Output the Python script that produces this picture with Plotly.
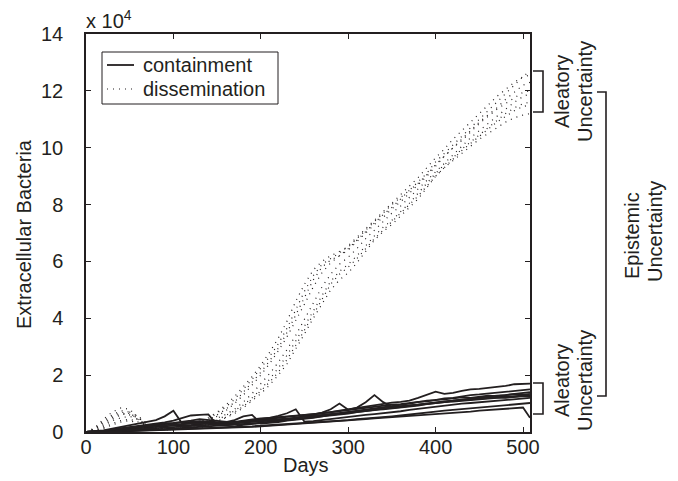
import plotly.graph_objects as go

# ---------------- data (values in units of 10^4 bacteria) ----------------
days = [0, 10, 20, 30, 40, 50, 60, 70, 80, 90, 100, 110, 120, 130, 140, 150, 160, 170, 180, 190,
        200, 210, 220, 230, 240, 250, 260, 270, 280, 290, 300, 310, 320, 330, 340, 350, 360, 370,
        380, 390, 400, 410, 420, 430, 440, 450, 460, 470, 480, 490, 500, 508]

containment_1 = [0, 0.02, 0.06, 0.12, 0.18, 0.24, 0.3, 0.34, 0.42, 0.55, 0.75, 0.3, 0.32, 0.36, 0.33, 0.3, 0.28, 0.32, 0.36, 0.38, 0.43, 0.46, 0.5, 0.53, 0.57, 0.6, 0.63, 0.66, 0.7, 0.73, 0.77, 0.81, 0.84, 0.89, 0.92, 0.96, 0.98, 1.03, 1.06, 1.08, 1.13, 1.15, 1.19, 1.22, 1.2, 1.25, 1.28, 1.26, 1.3, 1.33, 1.31, 1.34]
containment_2 = [0, 0.01, 0.04, 0.09, 0.13, 0.18, 0.22, 0.27, 0.3, 0.34, 0.4, 0.5, 0.58, 0.6, 0.62, 0.24, 0.22, 0.2, 0.25, 0.29, 0.31, 0.35, 0.38, 0.41, 0.46, 0.49, 0.52, 0.55, 0.6, 0.63, 0.66, 0.69, 0.74, 0.77, 0.82, 0.86, 0.89, 0.93, 0.97, 1.0, 1.03, 1.07, 1.1, 1.13, 1.15, 1.18, 1.2, 1.23, 1.24, 1.27, 1.29, 1.3]
containment_3 = [0, 0.0, 0.02, 0.05, 0.08, 0.1, 0.13, 0.15, 0.18, 0.2, 0.23, 0.25, 0.24, 0.28, 0.3, 0.32, 0.3, 0.34, 0.38, 0.42, 0.46, 0.5, 0.57, 0.66, 0.8, 0.36, 0.38, 0.42, 0.46, 0.5, 0.53, 0.56, 0.6, 0.63, 0.66, 0.7, 0.73, 0.78, 0.82, 0.86, 0.9, 0.92, 0.96, 1.0, 1.02, 1.05, 1.08, 1.1, 1.12, 1.15, 1.18, 1.2]
containment_4 = [0, 0.0, 0.01, 0.02, 0.03, 0.05, 0.06, 0.08, 0.08, 0.1, 0.12, 0.14, 0.15, 0.17, 0.19, 0.2, 0.22, 0.25, 0.28, 0.3, 0.33, 0.36, 0.4, 0.45, 0.5, 0.55, 0.6, 0.68, 0.8, 1.0, 0.78, 0.86, 1.05, 1.3, 1.05, 0.88, 0.9, 0.93, 0.96, 1.0, 1.05, 1.08, 1.1, 1.14, 1.18, 1.2, 1.24, 1.28, 1.3, 1.34, 1.37, 1.4]
containment_5 = [0, 0.01, 0.03, 0.06, 0.1, 0.13, 0.16, 0.2, 0.25, 0.28, 0.3, 0.32, 0.35, 0.38, 0.36, 0.35, 0.33, 0.36, 0.4, 0.45, 0.48, 0.5, 0.52, 0.55, 0.58, 0.6, 0.63, 0.66, 0.7, 0.75, 0.8, 0.85, 0.9, 0.95, 1.0, 1.03, 1.06, 1.1, 1.2, 1.3, 1.42, 1.34, 1.38, 1.45, 1.5, 1.52, 1.55, 1.58, 1.62, 1.68, 1.7, 1.7]
containment_6 = [0, 0, 0, 0.01, 0.02, 0.03, 0.04, 0.05, 0.06, 0.07, 0.08, 0.09, 0.1, 0.1, 0.12, 0.13, 0.14, 0.15, 0.17, 0.18, 0.2, 0.22, 0.24, 0.26, 0.28, 0.3, 0.31, 0.33, 0.35, 0.38, 0.4, 0.42, 0.45, 0.48, 0.5, 0.52, 0.55, 0.56, 0.58, 0.6, 0.63, 0.65, 0.68, 0.7, 0.72, 0.75, 0.77, 0.8, 0.82, 0.84, 0.86, 0.5]
containment_7 = [0, 0.01, 0.03, 0.06, 0.1, 0.14, 0.18, 0.2, 0.22, 0.25, 0.26, 0.28, 0.3, 0.29, 0.3, 0.32, 0.35, 0.42, 0.55, 0.6, 0.3, 0.32, 0.35, 0.4, 0.43, 0.47, 0.5, 0.55, 0.58, 0.62, 0.65, 0.7, 0.75, 0.78, 0.8, 0.83, 0.87, 0.9, 0.93, 0.98, 1.02, 1.05, 1.07, 1.1, 1.12, 1.15, 1.18, 1.2, 1.22, 1.25, 1.27, 1.28]
containment_8 = [0, 0.0, 0.02, 0.04, 0.06, 0.08, 0.1, 0.12, 0.15, 0.17, 0.18, 0.2, 0.22, 0.23, 0.25, 0.27, 0.28, 0.3, 0.33, 0.35, 0.38, 0.4, 0.43, 0.45, 0.48, 0.5, 0.55, 0.6, 0.63, 0.66, 0.7, 0.75, 0.8, 0.83, 0.86, 0.9, 0.95, 1.0, 1.05, 1.1, 1.12, 1.18, 1.2, 1.25, 1.3, 1.32, 1.35, 1.38, 1.42, 1.45, 1.48, 1.5]
containment_9 = [0, 0, 0.01, 0.02, 0.03, 0.04, 0.05, 0.06, 0.07, 0.08, 0.09, 0.1, 0.11, 0.12, 0.13, 0.14, 0.15, 0.16, 0.18, 0.2, 0.22, 0.24, 0.25, 0.27, 0.29, 0.3, 0.32, 0.35, 0.37, 0.4, 0.42, 0.45, 0.47, 0.5, 0.53, 0.55, 0.58, 0.62, 0.65, 0.68, 0.72, 0.75, 0.78, 0.8, 0.83, 0.86, 0.88, 0.92, 0.95, 0.97, 1.0, 1.02]
containment_10 = [0, 0.01, 0.04, 0.08, 0.12, 0.16, 0.2, 0.24, 0.28, 0.3, 0.32, 0.35, 0.4, 0.45, 0.42, 0.38, 0.35, 0.33, 0.35, 0.38, 0.4, 0.42, 0.45, 0.47, 0.5, 0.54, 0.57, 0.6, 0.62, 0.66, 0.7, 0.72, 0.76, 0.8, 0.82, 0.85, 0.88, 0.92, 0.95, 1.0, 1.02, 1.05, 1.1, 1.12, 1.14, 1.18, 1.2, 1.22, 1.2, 1.24, 1.26, 1.25]

dissemination_1 = [0, 0.15, 0.45, 0.7, 0.85, 0.8, 0.5, 0.25, 0.15, 0.12, 0.15, 0.2, 0.28, 0.35, 0.5, 0.7, 0.95, 1.25, 1.6, 1.95, 2.35, 2.8, 3.3, 3.9, 4.6, 5.2, 5.7, 6.0, 6.2, 6.35, 6.5, 6.8, 7.1, 7.4, 7.7, 8.0, 8.25, 8.5, 8.8, 9.1, 9.5, 9.8, 10.1, 10.4, 10.7, 11.0, 11.3, 11.6, 11.9, 12.2, 12.5, 12.7]
dissemination_2 = [0, 0.05, 0.15, 0.3, 0.4, 0.45, 0.35, 0.2, 0.1, 0.08, 0.08, 0.1, 0.12, 0.15, 0.22, 0.35, 0.5, 0.65, 0.85, 1.1, 1.35, 1.65, 2.0, 2.4, 2.9, 3.45, 4.0, 4.5, 5.0, 5.35, 5.6, 5.95, 6.35, 6.75, 7.05, 7.3, 7.6, 7.9, 8.2, 8.6, 9.0, 9.3, 9.55, 9.8, 10.05, 10.3, 10.5, 10.7, 10.9, 11.05, 11.15, 11.2]
dissemination_3 = [0, 0.1, 0.35, 0.55, 0.7, 0.65, 0.45, 0.2, 0.12, 0.1, 0.12, 0.16, 0.22, 0.3, 0.42, 0.6, 0.8, 1.05, 1.4, 1.75, 2.1, 2.5, 2.95, 3.5, 4.1, 4.75, 5.35, 5.8, 6.05, 6.2, 6.4, 6.7, 7.0, 7.3, 7.55, 7.85, 8.1, 8.4, 8.7, 9.0, 9.35, 9.7, 10.0, 10.3, 10.6, 10.9, 11.15, 11.4, 11.7, 11.95, 12.2, 12.3]
dissemination_4 = [0, 0.08, 0.25, 0.45, 0.6, 0.7, 0.55, 0.3, 0.15, 0.1, 0.1, 0.12, 0.18, 0.25, 0.35, 0.48, 0.62, 0.8, 1.05, 1.35, 1.7, 2.05, 2.45, 2.9, 3.4, 3.95, 4.55, 5.1, 5.55, 5.9, 6.15, 6.45, 6.8, 7.1, 7.4, 7.7, 7.95, 8.25, 8.55, 8.85, 9.15, 9.45, 9.75, 10.05, 10.35, 10.6, 10.85, 11.1, 11.35, 11.6, 11.8, 11.9]
dissemination_5 = [0, 0.12, 0.4, 0.6, 0.75, 0.7, 0.4, 0.22, 0.12, 0.1, 0.12, 0.15, 0.2, 0.28, 0.4, 0.55, 0.75, 1.0, 1.3, 1.65, 2.0, 2.4, 2.85, 3.35, 3.9, 4.5, 5.1, 5.6, 5.95, 6.2, 6.45, 6.75, 7.05, 7.35, 7.65, 7.9, 8.2, 8.5, 8.75, 9.05, 9.4, 9.7, 10.0, 10.25, 10.55, 10.85, 11.1, 11.35, 11.55, 11.75, 11.95, 12.0]
dissemination_6 = [0, 0.05, 0.2, 0.4, 0.5, 0.55, 0.45, 0.25, 0.12, 0.08, 0.09, 0.12, 0.15, 0.2, 0.3, 0.42, 0.58, 0.75, 0.95, 1.2, 1.5, 1.85, 2.25, 2.7, 3.2, 3.7, 4.25, 4.8, 5.3, 5.65, 5.9, 6.2, 6.55, 6.9, 7.2, 7.45, 7.75, 8.05, 8.4, 8.75, 9.1, 9.4, 9.65, 9.95, 10.2, 10.45, 10.7, 10.95, 11.2, 11.4, 11.55, 11.6]
dissemination_7 = [0, 0.1, 0.3, 0.5, 0.65, 0.6, 0.5, 0.3, 0.18, 0.12, 0.12, 0.18, 0.25, 0.32, 0.45, 0.65, 0.88, 1.15, 1.5, 1.85, 2.25, 2.65, 3.1, 3.65, 4.3, 4.95, 5.5, 5.9, 6.1, 6.3, 6.55, 6.85, 7.15, 7.45, 7.75, 8.05, 8.35, 8.65, 8.95, 9.3, 9.65, 9.95, 10.3, 10.6, 10.9, 11.2, 11.5, 11.8, 12.05, 12.3, 12.5, 12.55]
dissemination_8 = [0, 0.03, 0.12, 0.25, 0.35, 0.4, 0.3, 0.18, 0.1, 0.07, 0.08, 0.1, 0.14, 0.18, 0.26, 0.38, 0.52, 0.7, 0.9, 1.15, 1.45, 1.75, 2.1, 2.55, 3.05, 3.6, 4.15, 4.7, 5.2, 5.55, 5.8, 6.1, 6.45, 6.8, 7.1, 7.4, 7.7, 8.0, 8.3, 8.65, 9.0, 9.3, 9.6, 9.9, 10.15, 10.4, 10.65, 10.9, 11.1, 11.3, 11.45, 11.5]

containment = [containment_1, containment_2, containment_3, containment_4, containment_5,
               containment_6, containment_7, containment_8, containment_9, containment_10]
dissemination = [dissemination_1, dissemination_2, dissemination_3, dissemination_4,
                 dissemination_5, dissemination_6, dissemination_7, dissemination_8]

legend_labels = ["containment", "dissemination"]
x_ticks = [0, 100, 200, 300, 400, 500]
y_ticks = [0, 2, 4, 6, 8, 10, 12, 14]

# ---------------- figure ----------------
INK = "#231f20"
FONT = "Liberation Sans, Arial, sans-serif"
FS = 20
SOLID = dict(color=INK, width=1.8)
DOTTED = dict(color=INK, width=1.2, dash="1px,5px")
W, H = 678, 481
L, R, T, B = 86, 148, 34, 49
PW, PH = W - L - R, H - T - B


def px(x):
    return (x - L) / PW


def py(y):
    return (H - B - y) / PH


fig = go.Figure()

for ys in dissemination:
    fig.add_trace(go.Scatter(x=days, y=ys, mode="lines", name=legend_labels[1],
                             showlegend=False, line=DOTTED))

for ys in containment:
    fig.add_trace(go.Scatter(x=days, y=ys, mode="lines", name=legend_labels[0],
                             showlegend=False, line=SOLID))

axis_common = dict(showline=True, linecolor=INK, linewidth=1.5, mirror="ticks",
                   ticks="inside", ticklen=5, tickwidth=1, tickcolor=INK,
                   showgrid=False, zeroline=False,
                   tickfont=dict(family=FONT, size=FS, color=INK))

fig.update_layout(
    width=W, height=H,
    margin=dict(l=L, r=R, t=T, b=B),
    paper_bgcolor="white", plot_bgcolor="white",
    font=dict(family=FONT, color=INK),
    xaxis=dict(range=[0, 508], tickvals=x_ticks, ticklabelstandoff=-4, **axis_common),
    yaxis=dict(range=[0, 14], tickvals=y_ticks, ticklabelstandoff=17, **axis_common),
    showlegend=False,
)

# legend box (drawn as a key inside the axes)
fig.add_shape(type="rect", xref="paper", yref="paper",
              x0=px(102), x1=px(278), y0=py(104), y1=py(52),
              line=dict(color=INK, width=1), fillcolor="white", layer="above")
for label, style, yy in [(legend_labels[0], SOLID, 65), (legend_labels[1], DOTTED, 89)]:
    fig.add_shape(type="line", xref="paper", yref="paper",
                  x0=px(107), x1=px(134), y0=py(yy), y1=py(yy), line=style, layer="above")
    fig.add_annotation(text=label, x=px(141), y=py(yy), xref="paper", yref="paper",
                       xanchor="left", yanchor="middle", showarrow=False,
                       font=dict(family=FONT, size=FS, color=INK))

annos = [
    dict(text="Days", x=306, y=465, textangle=0),
    dict(text="Extracellular Bacteria", x=24, y=234, textangle=-90),
    dict(text="x 10<sup>4</sup>", x=109, y=20, textangle=0),
    dict(text="Aleatory", x=562, y=92, textangle=-90),
    dict(text="Uncertainty", x=585, y=92, textangle=-90),
    dict(text="Aleatory", x=562, y=381, textangle=-90),
    dict(text="Uncertainty", x=585, y=381, textangle=-90),
    dict(text="Epistemic", x=632, y=236, textangle=-90),
    dict(text="Uncertainty", x=655, y=232, textangle=-90),
]
for a in annos:
    fig.add_annotation(text=a["text"], x=px(a["x"]), y=py(a["y"]), xref="paper", yref="paper",
                       xanchor="center", yanchor="middle", showarrow=False,
                       textangle=a["textangle"],
                       font=dict(family=FONT, size=FS, color=INK))

brackets = [  # (x_left, x_right, y_top, y_bottom) in pixels
    (533, 543, 71, 112),
    (533, 543, 383, 414),
    (597, 606, 92, 396),
]
for x0, x1, y0, y1 in brackets:
    path = f"M {px(x0)},{py(y0)} L {px(x1)},{py(y0)} L {px(x1)},{py(y1)} L {px(x0)},{py(y1)}"
    fig.add_shape(type="path", path=path, xref="paper", yref="paper",
                  line=dict(color=INK, width=1.6))

fig.write_html("out.html", config={"displayModeBar": False},
               post_script="document.body.style.margin='0';")
